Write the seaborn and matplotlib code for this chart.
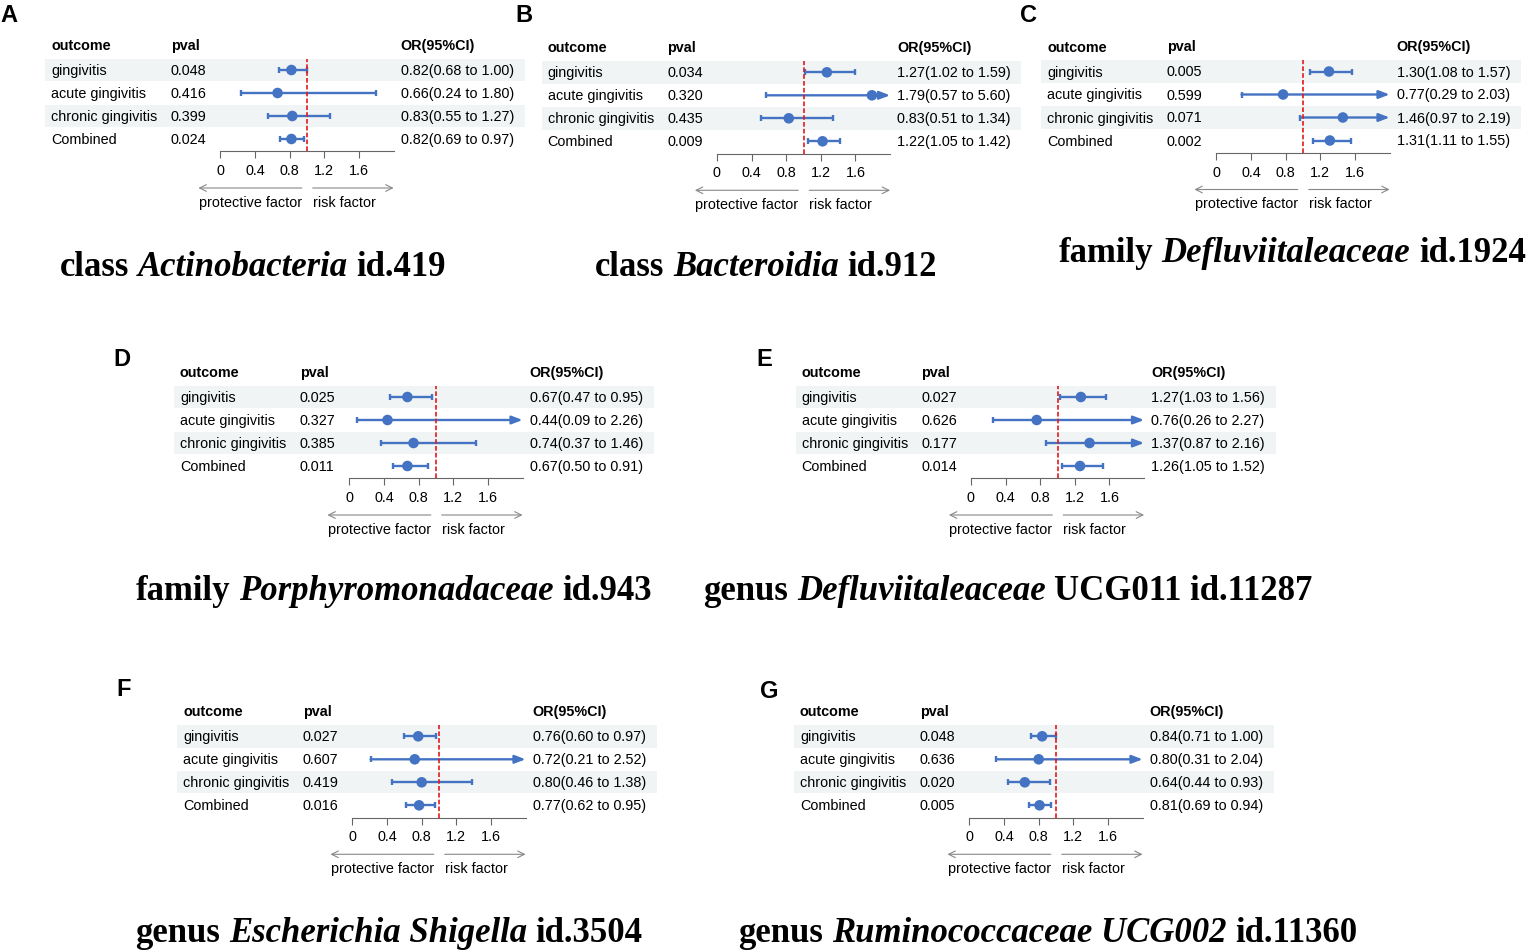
import matplotlib
matplotlib.use("Agg")
import matplotlib.pyplot as plt
import matplotlib.transforms as mtransforms
from matplotlib.patches import Rectangle
import seaborn as sns

sns.set_theme(style="white")
plt.rcParams["font.family"] = ["Liberation Sans", "DejaVu Sans"]

# ---- data ----
outcomes = ["gingivitis", "acute gingivitis", "chronic gingivitis", "Combined"]
panel_labels = ["A", "B", "C", "D", "E", "F", "G"]

# title pieces: (text, italic)
titles = [
    [("class", False), ("Actinobacteria", True), ("id.419", False)],
    [("class", False), ("Bacteroidia", True), ("id.912", False)],
    [("family", False), ("Defluviitaleaceae", True), ("id.1924", False)],
    [("family", False), ("Porphyromonadaceae", True), ("id.943", False)],
    [("genus", False), ("Defluviitaleaceae", True), ("UCG011 id.11287", False)],
    [("genus", False), ("Escherichia Shigella", True), ("id.3504", False)],
    [("genus", False), ("Ruminococcaceae UCG002", True), ("id.11360", False)],
]

pvals = [
    [0.048, 0.416, 0.399, 0.024],
    [0.034, 0.320, 0.435, 0.009],
    [0.005, 0.599, 0.071, 0.002],
    [0.025, 0.327, 0.385, 0.011],
    [0.027, 0.626, 0.177, 0.014],
    [0.027, 0.607, 0.419, 0.016],
    [0.048, 0.636, 0.020, 0.005],
]
or_est = [
    [0.82, 0.66, 0.83, 0.82],
    [1.27, 1.79, 0.83, 1.22],
    [1.30, 0.77, 1.46, 1.31],
    [0.67, 0.44, 0.74, 0.67],
    [1.27, 0.76, 1.37, 1.26],
    [0.76, 0.72, 0.80, 0.77],
    [0.84, 0.80, 0.64, 0.81],
]
or_low = [
    [0.68, 0.24, 0.55, 0.69],
    [1.02, 0.57, 0.51, 1.05],
    [1.08, 0.29, 0.97, 1.11],
    [0.47, 0.09, 0.37, 0.50],
    [1.03, 0.26, 0.87, 1.05],
    [0.60, 0.21, 0.46, 0.62],
    [0.71, 0.31, 0.44, 0.69],
]
or_high = [
    [1.00, 1.80, 1.27, 0.97],
    [1.59, 5.60, 1.34, 1.42],
    [1.57, 2.03, 2.19, 1.55],
    [0.95, 2.26, 1.46, 0.91],
    [1.56, 2.27, 2.16, 1.52],
    [0.97, 2.52, 1.38, 0.95],
    [1.00, 2.04, 0.93, 0.94],
]
xticks = [0, 0.4, 0.8, 1.2, 1.6]
xtick_labels = ["0", "0.4", "0.8", "1.2", "1.6"]
XMAX = 2.0

# ---- layout (pixels): outcome x, first row y, label x, label y, title centre x, title y
layout = [
    (51, 71, 0, 15, 253, 263),
    (547.5, 73.3, 515, 15.5, 766, 263.5),
    (1047, 72.5, 1020, 15, 1292, 250),
    (180, 398, 113, 360, 394, 588),
    (801.5, 398, 756, 360, 1008, 588),
    (183, 737.3, 116, 690, 389, 930),
    (800, 737.3, 760, 691, 1048, 930),
]

W, H, DPI = 1533, 953, 100
SCALE = 86.6   # px per OR unit
ROW = 23.0     # px per row
BLUE = "#4573c4"
RED = "#e31a1c"
BAND = "#f0f4f4"
FS = 10.4


def fx(px):
    return px / W


def fy(py):
    return 1 - py / H


fig = plt.figure(figsize=(W / DPI, H / DPI), dpi=DPI)
fig.patch.set_facecolor("white")
renderer = fig.canvas.get_renderer()

for k in range(len(panel_labels)):
    ox, ry, lx, ly, tx, ty = layout[k]
    x0 = ox + 169.4
    top = ry - 11.2
    bottom = ry + 81.3
    ax = fig.add_axes([fx(x0), fy(bottom), XMAX * SCALE / W, (bottom - top) / H])
    ax.patch.set_alpha(0)
    rows = list(range(len(outcomes)))
    blend = mtransforms.blended_transform_factory(fig.transFigure, ax.transData)

    # shaded bands for rows 1 and 3
    for i in rows:
        if i % 2 == 0:
            ax.add_patch(Rectangle((fx(ox - 6), i - 11.2 / ROW), 480 / W, 22.4 / ROW,
                                   transform=blend, facecolor=BAND, edgecolor="none",
                                   zorder=0, clip_on=False))

    # confidence intervals
    cap = 3.0 / ROW
    for i in rows:
        lo, hi = or_low[k][i], or_high[k][i]
        ax.vlines(lo, i - cap, i + cap, color=BLUE, lw=1.7, zorder=3)
        if hi <= XMAX:
            ax.hlines(i, lo, hi, color=BLUE, lw=1.7, zorder=3)
            ax.vlines(hi, i - cap, i + cap, color=BLUE, lw=1.7, zorder=3)
        else:
            ax.annotate("", xy=(XMAX, i), xytext=(lo, i),
                        arrowprops=dict(arrowstyle="-|>,head_length=0.42,head_width=0.16",
                                        color=BLUE, lw=1.7, shrinkA=0, shrinkB=0,
                                        mutation_scale=15),
                        annotation_clip=False, zorder=3)

    sns.scatterplot(x=or_est[k], y=rows, ax=ax, s=58, color=BLUE,
                    edgecolor="none", zorder=5, legend=False)
    ax.axvline(1, color=RED, lw=1.2, ls=(0, (2.8, 1.3)), zorder=4)

    ax.set_xlim(0, XMAX)
    ax.set_ylim(81.3 / ROW, -11.2 / ROW)
    ax.set_xlabel("")
    ax.set_ylabel("")
    ax.set_yticks([])
    ax.set_xticks(xticks, xtick_labels)
    for side in ["top", "left", "right"]:
        ax.spines[side].set_visible(False)
    ax.spines["bottom"].set_color("#666666")
    ax.spines["bottom"].set_linewidth(0.8)
    ax.tick_params(axis="x", direction="out", length=5, width=0.8, color="#666666",
                   pad=3.5, labelsize=FS, labelcolor="black", bottom=True)

    # table text
    hy = -25 / ROW
    ax.text(fx(ox), hy, "outcome", transform=blend, va="center", ha="left",
            fontsize=FS, fontweight="bold", color="black")
    ax.text(fx(ox + 119.7), hy, "pval", transform=blend, va="center", ha="left",
            fontsize=FS, fontweight="bold", color="black")
    ax.text(fx(ox + 349.6), hy, "OR(95%CI)", transform=blend, va="center", ha="left",
            fontsize=FS, fontweight="bold", color="black")
    for i in rows:
        ax.text(fx(ox), i, outcomes[i], transform=blend, va="center", ha="left",
                fontsize=FS, color="black")
        ax.text(fx(ox + 119.7), i, f"{pvals[k][i]:.3f}", transform=blend, va="center",
                ha="left", fontsize=FS, color="black")
        ax.text(fx(ox + 349.6), i,
                f"{or_est[k][i]:.2f}({or_low[k][i]:.2f} to {or_high[k][i]:.2f})",
                transform=blend, va="center", ha="left", fontsize=FS, color="black")

    # protective / risk arrows
    ya = 118 / ROW
    yt = 131.7 / ROW
    arrow_kw = dict(arrowstyle="->", color="#888888", lw=0.8, shrinkA=0, shrinkB=0)
    ax.annotate("", xy=(-0.254, ya), xytext=(0.94, ya), arrowprops=arrow_kw,
                annotation_clip=False)
    ax.annotate("", xy=(XMAX, ya), xytext=(1.066, ya), arrowprops=arrow_kw,
                annotation_clip=False)
    ax.text(0.343, yt, "protective factor", ha="center", va="center", fontsize=FS,
            color="black", clip_on=False)
    ax.text(1.066, yt, "risk factor", ha="left", va="center", fontsize=FS,
            color="black", clip_on=False)

    # panel letter
    fig.text(fx(lx), fy(ly), panel_labels[k], ha="left", va="center", fontsize=17,
             fontweight="bold", color="black")

    # title with italic pieces, centred
    pieces = []
    for txt, ital in titles[k]:
        t = fig.text(0, fy(ty + 12.5), txt, ha="left", va="baseline", fontsize=25,
                     fontweight="bold", fontstyle="italic" if ital else "normal",
                     family=["Liberation Serif", "DejaVu Serif"], color="black")
        pieces.append(t)
    widths = [p.get_window_extent(renderer).width for p in pieces]
    gap = 0.25 * 25 * DPI / 72
    total = sum(widths) + gap * (len(pieces) - 1)
    xpos = tx - total / 2
    for p, w in zip(pieces, widths):
        p.set_x(fx(xpos))
        xpos += w + gap

fig.savefig("out.png", dpi=DPI, facecolor="white")
